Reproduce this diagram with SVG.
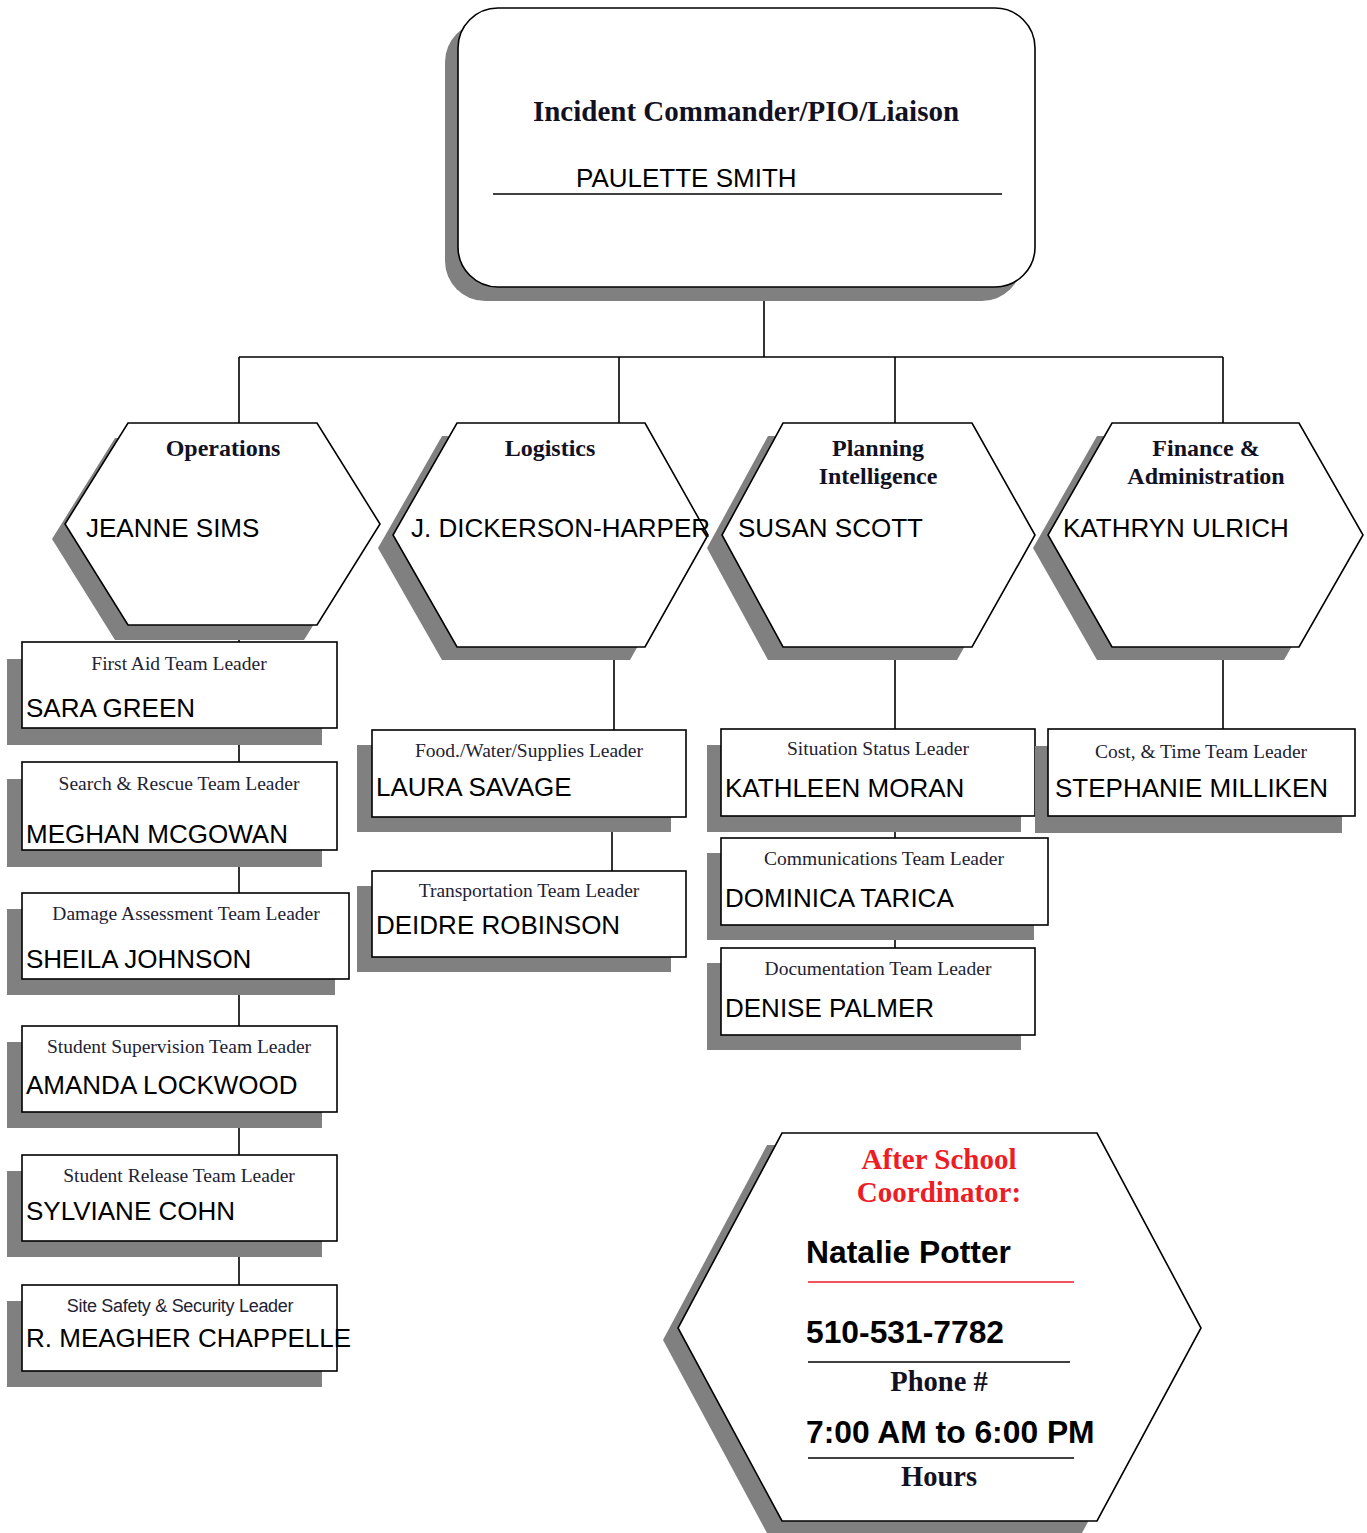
<svg xmlns="http://www.w3.org/2000/svg" width="1367" height="1533" viewBox="0 0 1367 1533">
<style>
.bg{fill:#ffffff}
.sh{fill:#808080;stroke:none}
.shape{fill:#ffffff;stroke:#000000;stroke-width:1.6}
.conn{stroke:#000000;stroke-width:1.6;fill:none}
.title{font-family:"Liberation Serif",serif;font-weight:bold;font-size:29px;fill:#111122;text-anchor:middle}
.head{font-family:"Liberation Serif",serif;font-weight:bold;font-size:24px;fill:#111122;text-anchor:middle}
.lbl{font-family:"Liberation Serif",serif;font-size:19.5px;fill:#222233;text-anchor:middle}
.lbls{font-family:"Liberation Sans",Arial,sans-serif;font-size:18px;fill:#222233;text-anchor:middle;letter-spacing:-0.3px}
.name{font-family:"Liberation Sans",Arial,sans-serif;font-size:26px;fill:#000000}
.red{font-family:"Liberation Serif",serif;font-weight:bold;font-size:29px;fill:#ee1c24;text-anchor:middle}
.big{font-family:"Liberation Sans",Arial,sans-serif;font-weight:bold;font-size:31.8px;fill:#000000}
.cap{font-family:"Liberation Serif",serif;font-weight:bold;font-size:28.5px;fill:#111122;text-anchor:middle}
</style>
<rect class="bg" x="0" y="0" width="1367" height="1533"/>

<g id="connectors">
<line class="conn" x1="764" y1="287" x2="764" y2="357"/>
<line class="conn" x1="239" y1="357" x2="1223" y2="357"/>
<line class="conn" x1="239" y1="357" x2="239" y2="423"/>
<line class="conn" x1="619" y1="357" x2="619" y2="423"/>
<line class="conn" x1="895" y1="357" x2="895" y2="423"/>
<line class="conn" x1="1223" y1="357" x2="1223" y2="423"/>
<line class="conn" x1="239" y1="625" x2="239" y2="642"/>
<line class="conn" x1="239" y1="728" x2="239" y2="762"/>
<line class="conn" x1="239" y1="850" x2="239" y2="893"/>
<line class="conn" x1="239" y1="979" x2="239" y2="1026"/>
<line class="conn" x1="239" y1="1112" x2="239" y2="1155"/>
<line class="conn" x1="239" y1="1241" x2="239" y2="1285"/>
<line class="conn" x1="614" y1="647" x2="614" y2="730"/>
<line class="conn" x1="612" y1="817" x2="612" y2="871"/>
<line class="conn" x1="895" y1="647" x2="895" y2="729"/>
<line class="conn" x1="895" y1="816" x2="895" y2="838"/>
<line class="conn" x1="895" y1="925" x2="895" y2="948"/>
<line class="conn" x1="1223" y1="647" x2="1223" y2="729"/>
</g>

<g id="commander">
<rect class="sh" x="445" y="22" width="577" height="279" rx="40"/>
<rect class="shape" x="458" y="8" width="577" height="279" rx="40"/>
<text class="title" x="746" y="121">Incident Commander/PIO/Liaison</text>
<text class="name" x="576" y="187">PAULETTE SMITH</text>
<line class="conn" x1="493" y1="194" x2="1002" y2="194"/>
</g>

<g id="operations">
<polygon class="sh" points="115,438 304,438 367,539 304,640 115,640 52,539"/>
<polygon class="shape" points="128,423 317,423 380,524 317,625 128,625 65,524"/>
<text class="head" x="223" y="456">Operations</text>
<text class="name" x="86" y="537">JEANNE SIMS</text>
</g>

<g id="logistics">
<polygon class="sh" points="442,436 630,436 693,548 630,660 442,660 378,548"/>
<polygon class="shape" points="457,423 645,423 708,535 645,647 457,647 393,535"/>
<text class="head" x="550" y="456">Logistics</text>
<text class="name" x="411" y="537">J. DICKERSON-HARPER</text>
</g>

<g id="planning">
<polygon class="sh" points="768,436 957,436 1020,548 957,660 768,660 707,548"/>
<polygon class="shape" points="783,423 972,423 1035,535 972,647 783,647 722,535"/>
<text class="head" x="878" y="456">Planning</text>
<text class="head" x="878" y="484">Intelligence</text>
<text class="name" x="738" y="537">SUSAN SCOTT</text>
</g>

<g id="finance">
<polygon class="sh" points="1097,436 1284,436 1348,548 1284,660 1097,660 1033,548"/>
<polygon class="shape" points="1112,423 1299,423 1363,535 1299,647 1112,647 1048,535"/>
<text class="head" x="1206" y="456">Finance &amp;</text>
<text class="head" x="1206" y="484">Administration</text>
<text class="name" x="1063" y="537">KATHRYN ULRICH</text>
</g>

<g id="first-aid">
<rect class="sh" x="7" y="659" width="315" height="86"/>
<rect class="shape" x="22" y="642" width="315" height="86"/>
<text class="lbl" x="179" y="670">First Aid Team Leader</text>
<text class="name" x="26" y="717">SARA GREEN</text>
</g>

<g id="search-rescue">
<rect class="sh" x="7" y="779" width="315" height="88"/>
<rect class="shape" x="22" y="762" width="315" height="88"/>
<text class="lbl" x="179" y="790">Search &amp; Rescue Team Leader</text>
<text class="name" x="26" y="843">MEGHAN MCGOWAN</text>
</g>

<g id="damage-assessment">
<rect class="sh" x="7" y="909" width="328" height="86"/>
<rect class="shape" x="22" y="893" width="327" height="86"/>
<text class="lbl" x="186" y="920">Damage Assessment Team Leader</text>
<text class="name" x="26" y="968">SHEILA JOHNSON</text>
</g>

<g id="student-supervision">
<rect class="sh" x="7" y="1042" width="315" height="86"/>
<rect class="shape" x="22" y="1026" width="315" height="86"/>
<text class="lbl" x="179" y="1053">Student Supervision Team Leader</text>
<text class="name" x="26" y="1094">AMANDA LOCKWOOD</text>
</g>

<g id="student-release">
<rect class="sh" x="7" y="1171" width="315" height="86"/>
<rect class="shape" x="22" y="1155" width="315" height="86"/>
<text class="lbl" x="179" y="1182">Student Release Team Leader</text>
<text class="name" x="26" y="1220">SYLVIANE COHN</text>
</g>

<g id="site-safety">
<rect class="sh" x="7" y="1301" width="315" height="86"/>
<rect class="shape" x="22" y="1285" width="315" height="86"/>
<text class="lbls" x="180" y="1312">Site Safety &amp; Security Leader</text>
<text class="name" x="26" y="1347">R. MEAGHER CHAPPELLE</text>
</g>

<g id="food-water">
<rect class="sh" x="357" y="745" width="314" height="87"/>
<rect class="shape" x="372" y="730" width="314" height="87"/>
<text class="lbl" x="529" y="757">Food./Water/Supplies Leader</text>
<text class="name" x="376" y="796">LAURA SAVAGE</text>
</g>

<g id="transportation">
<rect class="sh" x="357" y="886" width="314" height="86"/>
<rect class="shape" x="372" y="871" width="314" height="86"/>
<text class="lbl" x="529" y="897">Transportation Team Leader</text>
<text class="name" x="376" y="934">DEIDRE ROBINSON</text>
</g>

<g id="situation-status">
<rect class="sh" x="707" y="745" width="314" height="87"/>
<rect class="shape" x="721" y="729" width="314" height="87"/>
<text class="lbl" x="878" y="755">Situation Status Leader</text>
<text class="name" x="725" y="797">KATHLEEN MORAN</text>
</g>

<g id="communications">
<rect class="sh" x="707" y="853" width="327" height="87"/>
<rect class="shape" x="721" y="838" width="327" height="87"/>
<text class="lbl" x="884" y="865">Communications Team Leader</text>
<text class="name" x="725" y="907">DOMINICA TARICA</text>
</g>

<g id="documentation">
<rect class="sh" x="707" y="963" width="314" height="87"/>
<rect class="shape" x="721" y="948" width="314" height="87"/>
<text class="lbl" x="878" y="975">Documentation Team Leader</text>
<text class="name" x="725" y="1017">DENISE PALMER</text>
</g>

<g id="cost-time">
<rect class="sh" x="1035" y="746" width="307" height="87"/>
<rect class="shape" x="1048" y="729" width="307" height="87"/>
<text class="lbl" x="1201" y="758">Cost, &amp; Time Team Leader</text>
<text class="name" x="1055" y="797">STEPHANIE MILLIKEN</text>
</g>

<g id="after-school">
<polygon class="sh" points="767,1145 1082,1145 1186,1340 1082,1533 767,1533 663,1340"/>
<polygon class="shape" points="782,1133 1097,1133 1201,1328 1097,1521 782,1521 678,1328"/>
<text class="red" x="939" y="1169">After School</text>
<text class="red" x="939" y="1202">Coordinator:</text>
<text class="big" x="806" y="1263">Natalie Potter</text>
<line x1="808" y1="1282" x2="1074" y2="1282" stroke="#ee1c24" stroke-width="1.6"/>
<text class="big" x="806" y="1343">510-531-7782</text>
<line class="conn" x1="808" y1="1362" x2="1070" y2="1362"/>
<text class="cap" x="939" y="1391">Phone #</text>
<text class="big" x="806" y="1443">7:00 AM to 6:00 PM</text>
<line class="conn" x1="808" y1="1458" x2="1074" y2="1458"/>
<text class="cap" x="939" y="1486">Hours</text>
</g>
</svg>
